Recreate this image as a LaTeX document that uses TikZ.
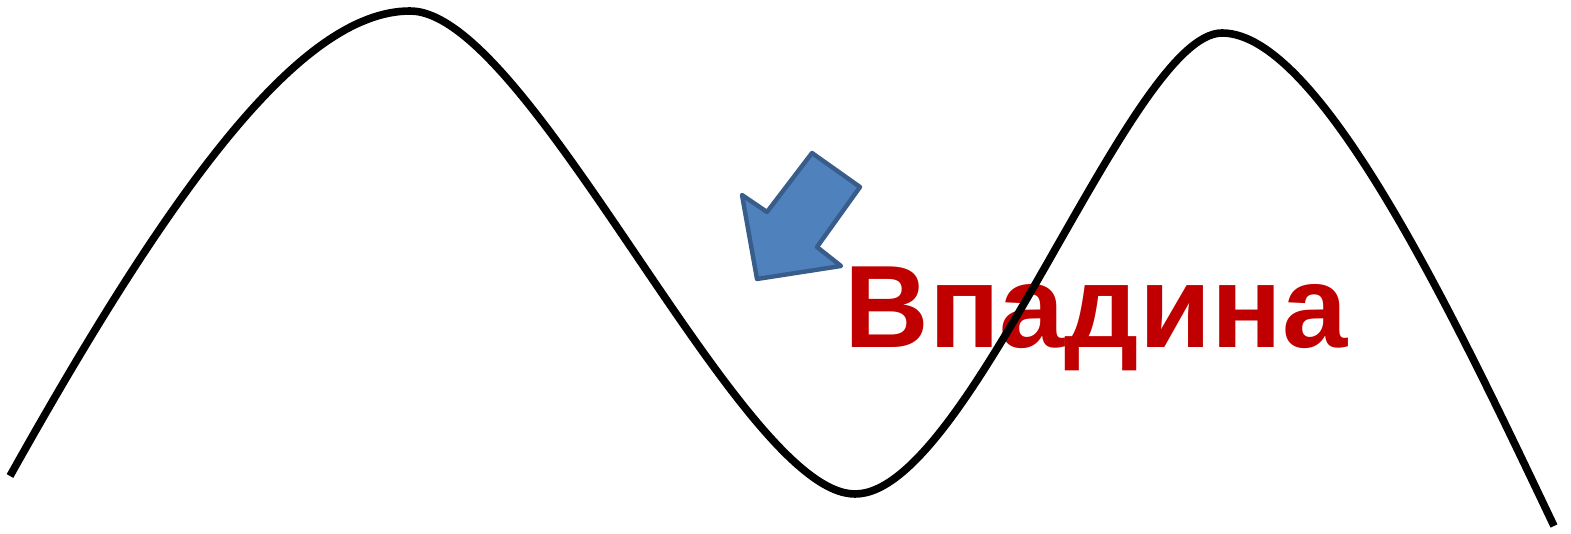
\documentclass[tikz,border=0pt]{standalone}
\usepackage{fontspec}
\setmainfont{Liberation Sans}
\usetikzlibrary{positioning}
\definecolor{wavecol}{HTML}{000000}
\definecolor{arrowfill}{HTML}{4F81BD}
\definecolor{arrowedge}{HTML}{385D8A}
\definecolor{labelred}{HTML}{C00000}
\tikzset{
  waveline/.style={
    draw=#1, line width=3.8pt
  },
  waveline/.default=wavecol,
  blockarrow/.style={
    fill=arrowfill, draw=arrowedge, line width=2.2pt, line join=round
  },
  wordnode/.style={
    font=\fontsize{58.6}{60}\selectfont\bfseries, text=labelred,
    inner sep=0pt, anchor=base west
  },
}
\begin{document}
\begin{tikzpicture}[x=0.5pt, y=-0.5pt]
  \useasboundingbox (0,0) rectangle (1571,534);

  % Label
  \node[wordnode] (word) at (844,348) {Впадина};

  % Block arrow pointing down-left
  \draw[blockarrow] (757,279) -- (742,195) -- (767,212) -- (812,153)
    -- (860,187) -- (817,247) -- (841,266) -- cycle;

  % Wave: two crests with a trough between
  \coordinate (w0) at (10,476);
  \coordinate (crestA) at (410,11);
  \coordinate (trough) at (855,494);
  \coordinate (crestB) at (1222,33);
  \coordinate (w1) at (1554,526);
  \draw[waveline] (w0) .. controls (170,190) and (300,11) .. (crestA)
    .. controls (530,11) and (740,494) .. (trough)
    .. controls (970,494) and (1130,33) .. (crestB)
    .. controls (1320,33) and (1454,316) .. (w1);
\end{tikzpicture}
\end{document}
